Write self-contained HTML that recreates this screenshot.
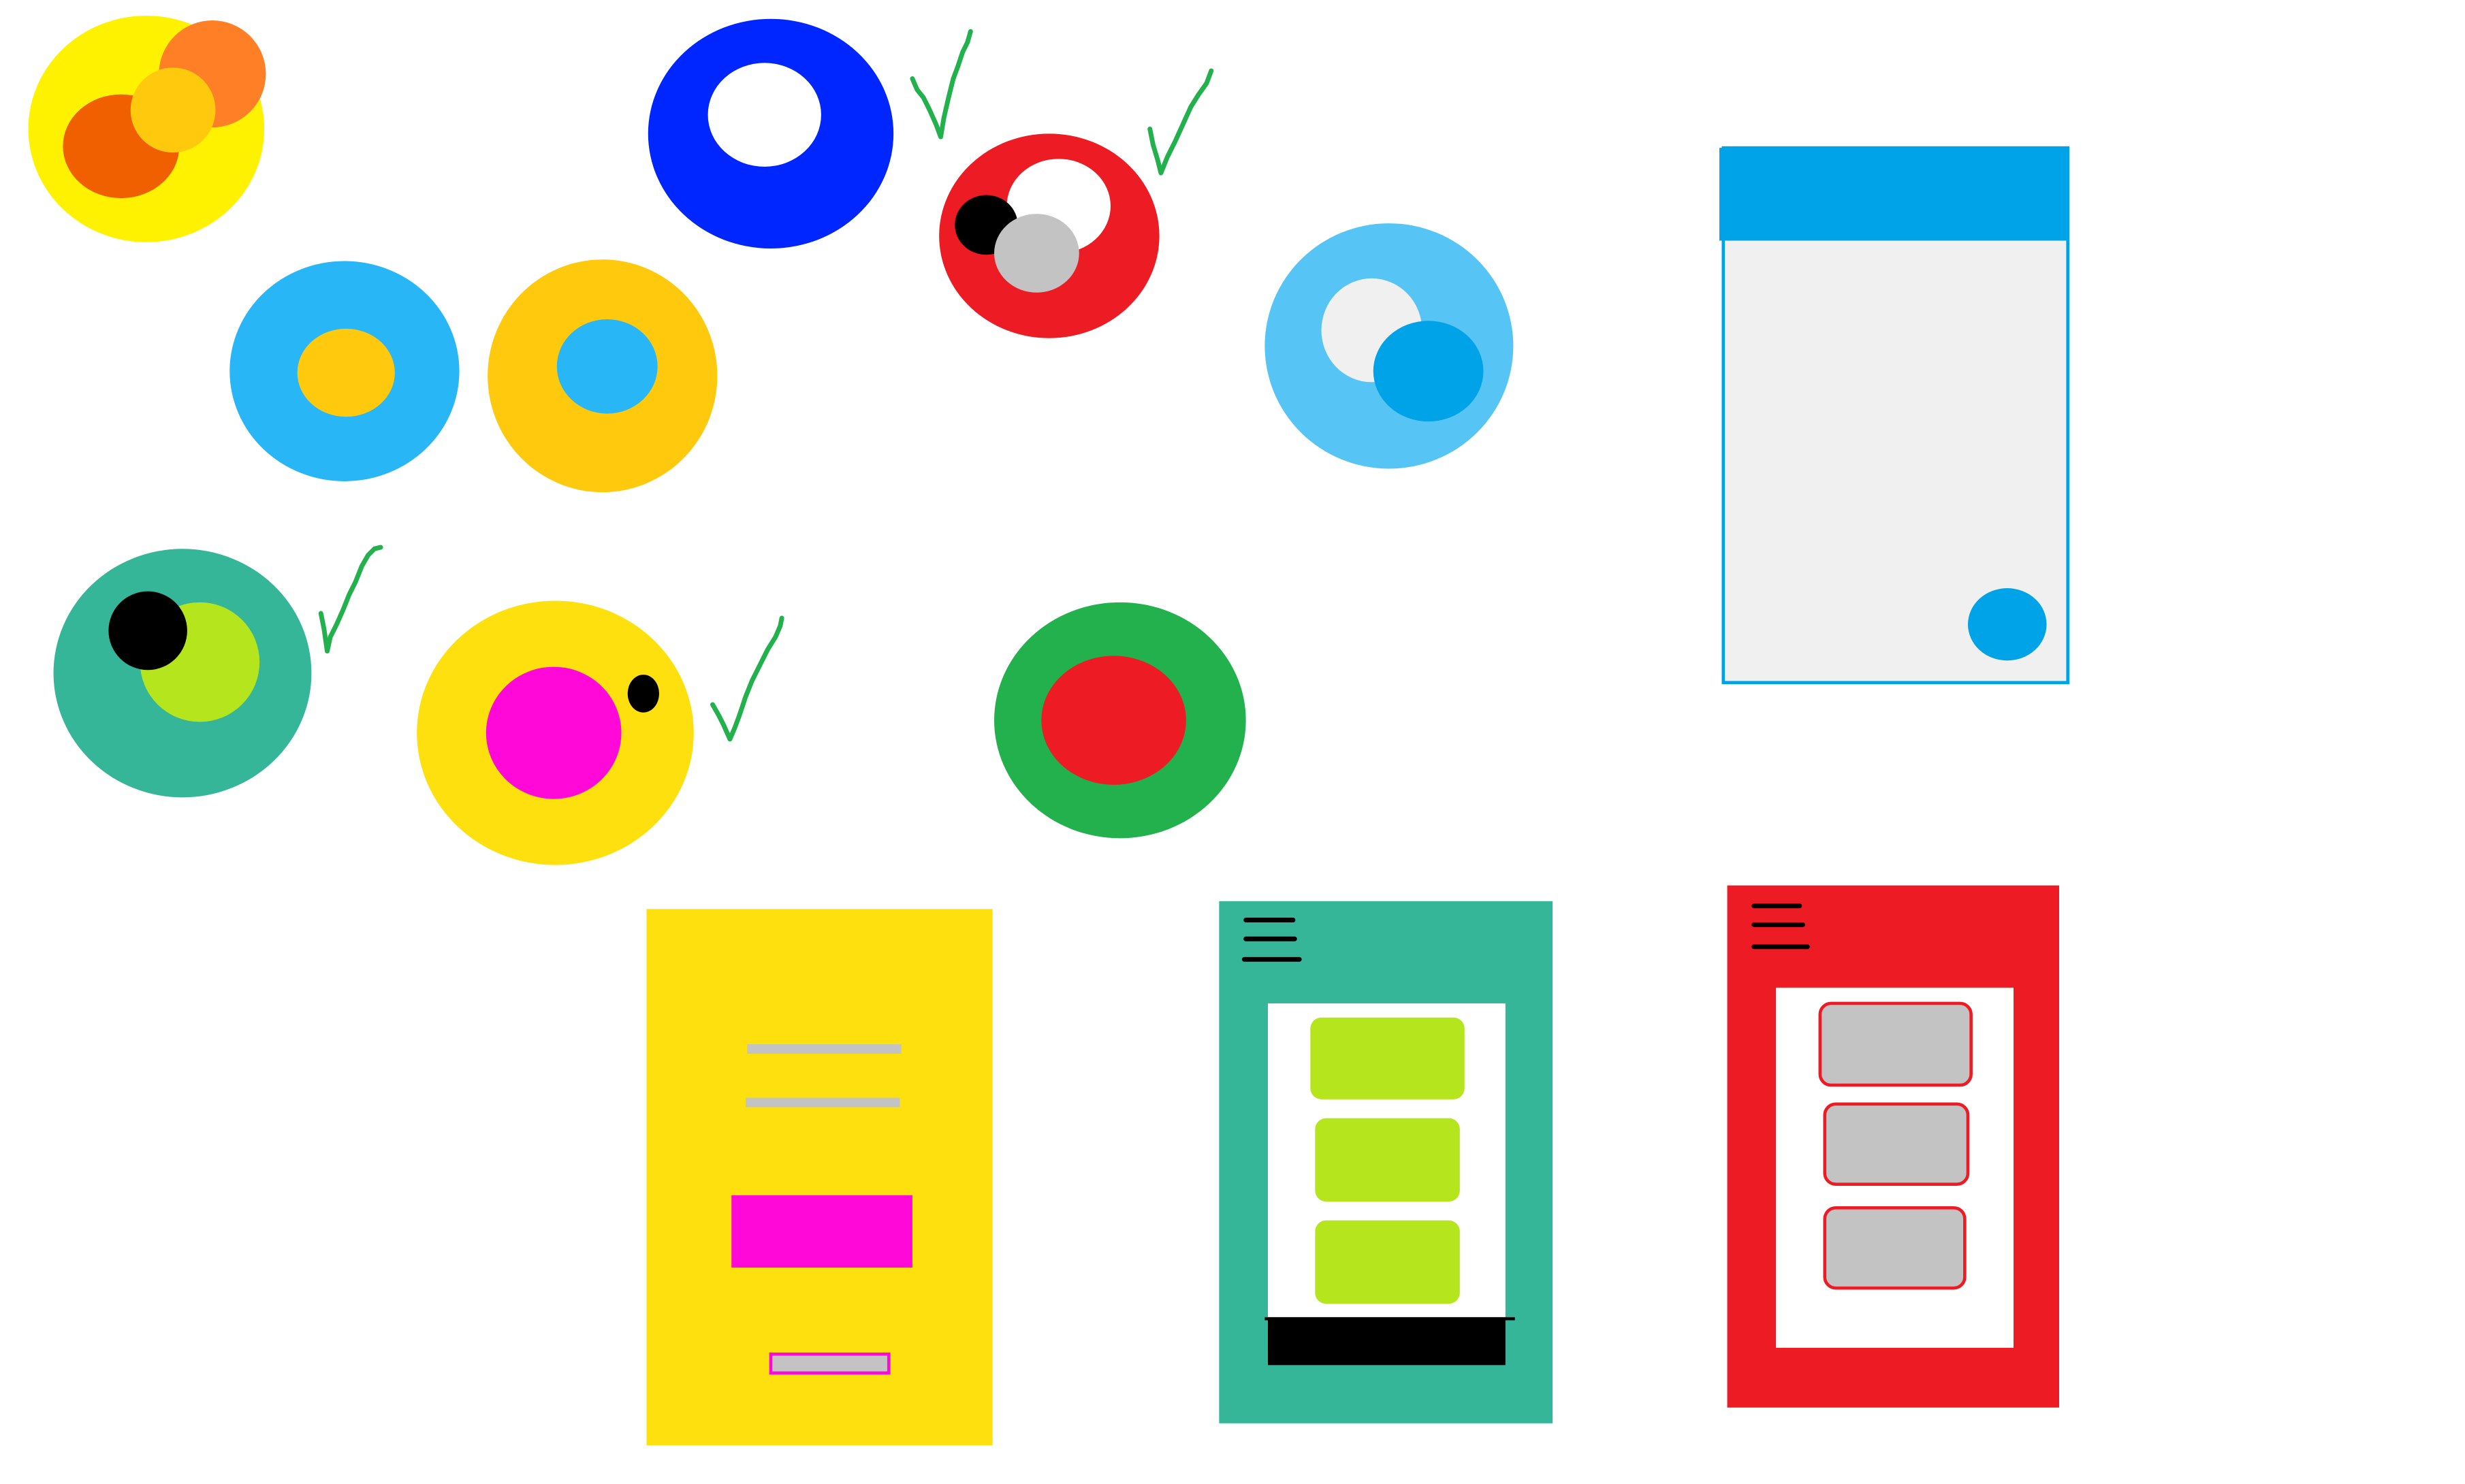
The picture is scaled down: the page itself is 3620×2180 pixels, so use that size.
<!DOCTYPE html>
<html><head><meta charset="utf-8"><style>
html,body{margin:0;padding:0;background:#fff;}
svg{display:block;}
</style></head><body>
<svg width="3620" height="2180" viewBox="0 0 1567 943.6" xmlns="http://www.w3.org/2000/svg" preserveAspectRatio="none">
<rect width="1567" height="944" fill="#fff"/>
<ellipse cx="93" cy="82" rx="75" ry="72" fill="#FFF200"/>
<circle cx="135" cy="47" r="34" fill="#FF7F27"/>
<ellipse cx="77" cy="93" rx="37" ry="33" fill="#F06000"/>
<circle cx="110" cy="70" r="27" fill="#FFC90E"/>
<ellipse cx="490" cy="85" rx="78" ry="73" fill="#0026FF"/>
<ellipse cx="486" cy="73" rx="36" ry="33" fill="#fff"/>
<g fill="none" stroke="#22B14C" stroke-width="3" stroke-linecap="round" stroke-linejoin="round">
<polyline points="580,50 583,57 587,62 591,70 595,79 598,87 600,75 603,62 606,50 609,42 612,33 615,27 617,20"/>
<polyline points="731,82 733,92 736,102 738,110 742,100 747,90 752,79 757,68 762,60 767,53 770,45"/>
<polyline points="204,390 206,400 208,414 210,405 214,397 218,388 222,378 226,370 230,360 234,353 238,349 242,348"/>
<polyline points="453,448 457,455 460,461 464,470 467,463 470,455 474,443 478,433 483,423 488,413 493,405 496,398 497,393"/>
</g>
<ellipse cx="667" cy="150" rx="70" ry="65" fill="#ED1C24"/>
<ellipse cx="673" cy="131" rx="33" ry="30" fill="#fff"/>
<ellipse cx="627" cy="143" rx="20" ry="19" fill="#000"/>
<ellipse cx="659" cy="161" rx="27" ry="25" fill="#C3C3C3"/>
<ellipse cx="883" cy="220" rx="79" ry="78" fill="#56C5F5"/>
<ellipse cx="872" cy="210" rx="32" ry="33" fill="#F0F0F0"/>
<ellipse cx="908" cy="236" rx="35" ry="32" fill="#00A2E8"/>
<ellipse cx="219" cy="236" rx="73" ry="70" fill="#29B6F6"/>
<ellipse cx="220" cy="237" rx="31" ry="28" fill="#FFC90E"/>
<ellipse cx="383" cy="239" rx="73" ry="74" fill="#FFC90E"/>
<ellipse cx="386" cy="233" rx="32" ry="30" fill="#29B6F6"/>
<rect x="1095.5" y="94" width="219" height="340" fill="#F0F0F0" stroke="#00A2E8" stroke-width="2"/>
<rect x="1093" y="94" width="222" height="59" fill="#00A2E8"/>
<ellipse cx="1276" cy="397" rx="25" ry="23" fill="#00A2E8"/>
<ellipse cx="116" cy="428" rx="82" ry="79" fill="#36B698"/>
<circle cx="127" cy="421" r="38" fill="#B5E61D"/>
<circle cx="94" cy="401" r="25" fill="#000"/>
<ellipse cx="353" cy="466" rx="88" ry="84" fill="#FDE00D"/>
<ellipse cx="352" cy="466" rx="43" ry="42" fill="#FF08D8"/>
<ellipse cx="409" cy="441" rx="10" ry="12" fill="#000"/>
<ellipse cx="712" cy="458" rx="80" ry="75" fill="#22B14C"/>
<ellipse cx="708" cy="458" rx="46" ry="41" fill="#ED1C24"/>
<rect x="411" y="578" width="220" height="341" fill="#FDE00D"/>
<rect x="475" y="664" width="98" height="6" fill="#C3C3C3"/>
<rect x="474" y="698" width="98" height="6" fill="#C3C3C3"/>
<rect x="465" y="760" width="115" height="46" fill="#FF08D8"/>
<rect x="490" y="861" width="75" height="12" fill="#C3C3C3" stroke="#FF08D8" stroke-width="2"/>
<rect x="775" y="573" width="212" height="332" fill="#36B698"/>
<g stroke="#000" stroke-width="3" stroke-linecap="round">
<line x1="792" y1="585" x2="822" y2="585"/>
<line x1="792" y1="597" x2="823" y2="597"/>
<line x1="791" y1="610" x2="826" y2="610"/>
</g>
<rect x="806" y="638" width="151" height="200" fill="#fff"/>
<rect x="833" y="647" width="98" height="52" rx="7" fill="#B5E61D"/>
<rect x="836" y="711" width="92" height="53" rx="7" fill="#B5E61D"/>
<rect x="836" y="776" width="92" height="53" rx="7" fill="#B5E61D"/>
<rect x="806" y="838" width="151" height="30" fill="#000"/>
<line x1="804" y1="838.5" x2="963" y2="838.5" stroke="#000" stroke-width="2"/>
<rect x="1098" y="563" width="211" height="332" fill="#ED1C24"/>
<g stroke="#000" stroke-width="3" stroke-linecap="round">
<line x1="1115" y1="576" x2="1144" y2="576"/>
<line x1="1115" y1="588" x2="1146" y2="588"/>
<line x1="1115" y1="602" x2="1149" y2="602"/>
</g>
<rect x="1129" y="628" width="151" height="229" fill="#fff"/>
<g fill="#C3C3C3" stroke="#ED1C24" stroke-width="2">
<rect x="1157" y="638" width="96" height="52" rx="7"/>
<rect x="1160" y="702" width="91" height="51" rx="7"/>
<rect x="1160" y="768" width="89" height="51" rx="7"/>
</g>
</svg>
</body></html>
